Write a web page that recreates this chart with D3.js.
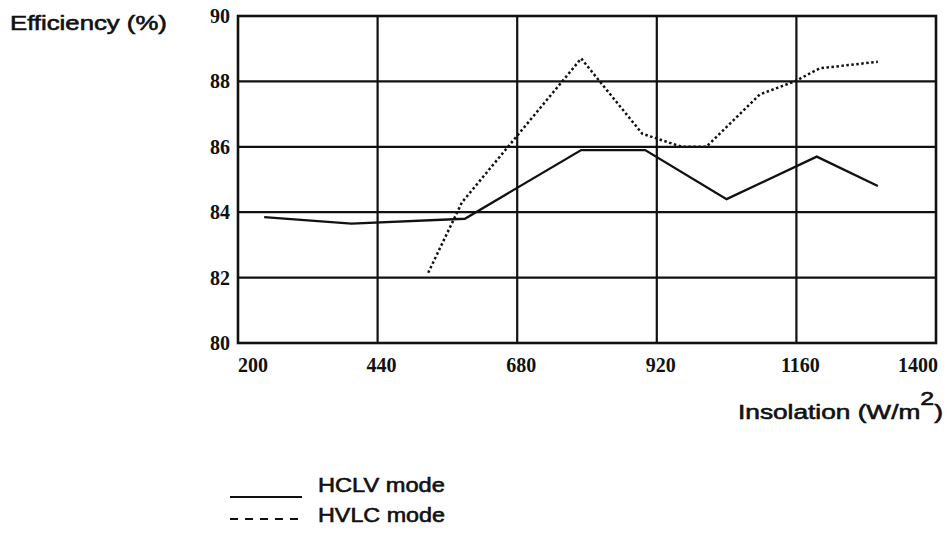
<!DOCTYPE html>
<html>
<head>
<meta charset="utf-8">
<script src="https://cdn.jsdelivr.net/npm/d3@7"></script>
<style>
  html, body { margin: 0; padding: 0; background: #fff; }
  svg { display: block; }
</style>
</head>
<body>
<svg id="chart" width="949" height="533"></svg>
<script>
// ---- data ----
const xTicks = [200, 440, 680, 920, 1160, 1400];
const yTicks = [80, 82, 84, 86, 88, 90];

const hclvX = [245, 395, 590, 790, 900, 1040, 1195, 1300];
const hclvY = [83.85, 83.65, 83.8, 85.9, 85.9, 84.4, 85.7, 84.8];

const hvlcX = [527, 585, 790, 895, 963, 1005, 1097, 1157, 1200, 1300];
const hvlcY = [82.15, 84.3, 88.7, 86.4, 86.0, 86.0, 87.6, 88.0, 88.4, 88.6];

const seriesNames = ["HCLV mode", "HVLC mode"];

// ---- layout ----
const svg = d3.select("#chart");
const pLeft = 238, pRight = 936, pTop = 16, pBottom = 343;
const x = d3.scaleLinear().domain([200, 1400]).range([pLeft, pRight]);
const y = d3.scaleLinear().domain([80, 90]).range([pBottom, pTop]);

// grid
const g = svg.append("g");
g.selectAll(".vg").data(xTicks.slice(1, -1)).enter().append("line")
  .attr("x1", d => x(d)).attr("x2", d => x(d))
  .attr("y1", pTop).attr("y2", pBottom)
  .attr("stroke", "#111").attr("stroke-width", 2.2);
g.selectAll(".hg").data(yTicks.slice(1, -1)).enter().append("line")
  .attr("x1", pLeft).attr("x2", pRight)
  .attr("y1", d => y(d)).attr("y2", d => y(d))
  .attr("stroke", "#111").attr("stroke-width", 2.2);
g.append("rect").attr("x", pLeft).attr("y", pTop)
  .attr("width", pRight - pLeft).attr("height", pBottom - pTop)
  .attr("fill", "none").attr("stroke", "#111").attr("stroke-width", 2.6);

// tick labels
const serif = "'Liberation Serif', 'Times New Roman', serif";
svg.selectAll(".xt").data(xTicks).enter().append("text")
  .attr("x", (d, i) => i === 0 ? x(d) : i === xTicks.length - 1 ? x(d) + 2 : x(d) + 4)
  .attr("y", 372)
  .attr("text-anchor", (d, i) => i === 0 ? "start" : i === xTicks.length - 1 ? "end" : "middle")
  .attr("font-family", serif).attr("font-weight", "bold").attr("font-size", 20)
  .attr("fill", "#111")
  .text(d => d);
svg.selectAll(".yt").data(yTicks).enter().append("text")
  .attr("x", 230).attr("y", d => y(d) + 7)
  .attr("text-anchor", "end")
  .attr("font-family", serif).attr("font-weight", "bold").attr("font-size", 20)
  .attr("fill", "#111")
  .text(d => d);

// lines
const line = d3.line().x(d => x(d[0])).y(d => y(d[1]));
const hclv = hclvX.map((v, i) => [v, hclvY[i]]);
const hvlc = hvlcX.map((v, i) => [v, hvlcY[i]]);
svg.append("path").attr("d", line(hclv))
  .attr("fill", "none").attr("stroke", "#111").attr("stroke-width", 2.3);
svg.append("path").attr("d", line(hvlc))
  .attr("fill", "none").attr("stroke", "#111").attr("stroke-width", 2.5)
  .attr("stroke-dasharray", "2.5,2.5");

// stretched sans text helper
const sans = "'Liberation Sans', Arial, sans-serif";
function stretchedText(x0, y0, x1, size, build) {
  const t = svg.append("text").attr("font-family", sans).attr("font-size", size)
    .attr("fill", "#111").attr("stroke", "#111").attr("stroke-width", 0.6);
  build(t);
  const w = t.node().getComputedTextLength();
  const s = (x1 - x0) / w;
  t.attr("transform", `translate(${x0},${y0}) scale(${s},1)`);
  return t;
}

stretchedText(10, 30, 167, 20, t => t.text("Efficiency (%)"));
stretchedText(738, 419, 943, 20, t => {
  t.append("tspan").text("Insolation (W/m");
  t.append("tspan").attr("font-size", 19).attr("dy", -14).text("2");
  t.append("tspan").attr("dy", 14).text(")");
});

// legend
const legY = [497, 519];
const legTextY = [492, 522];
const legStyles = [null, "8,7"];
seriesNames.forEach((name, i) => {
  svg.append("line").attr("x1", 230).attr("x2", 302)
    .attr("y1", legY[i]).attr("y2", legY[i])
    .attr("stroke", "#111").attr("stroke-width", 2.2)
    .attr("stroke-dasharray", legStyles[i]);
  stretchedText(318, legTextY[i], 445, 20, t => t.text(name));
});
</script>
</body>
</html>
